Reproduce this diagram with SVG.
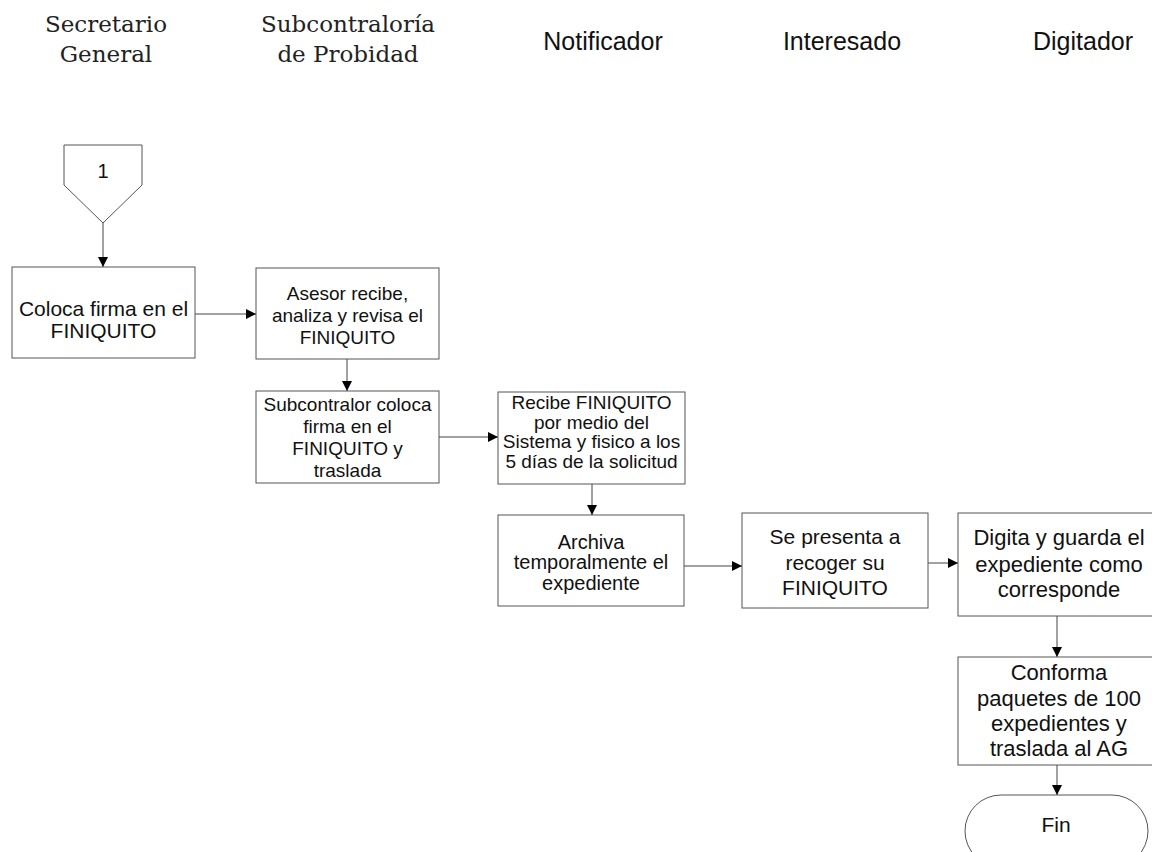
<svg xmlns="http://www.w3.org/2000/svg" width="1152" height="852" viewBox="0 0 1152 852">
  <style>
    .lane { font-family: "DejaVu Serif", "Liberation Serif", serif; font-size: 23px; fill: #222; text-anchor: middle; }
    .lane-s { font-family: "Liberation Sans", Arial, sans-serif; font-size: 25px; fill: #111; text-anchor: middle; }
    .box { fill: #fff; stroke: #555; stroke-width: 1; }
    .t { font-family: "Liberation Sans", Arial, sans-serif; fill: #111; text-anchor: middle; }
    .edge { fill: none; stroke: #444; stroke-width: 1; }
  </style>
  <defs>
    <marker id="arrow" viewBox="0 0 10 10" refX="10" refY="5" markerWidth="10" markerHeight="10" markerUnits="userSpaceOnUse" orient="auto">
      <path d="M0,0 L10,5 L0,10 z" fill="#000"/>
    </marker>
  </defs>
  <rect width="1152" height="852" fill="#fff"/>

  <!-- swimlane headers -->
  <g id="lanes">
    <text class="lane" x="106" y="32">Secretario</text>
    <text class="lane" x="106" y="62">General</text>
    <text class="lane" x="348" y="32">Subcontraloría</text>
    <text class="lane" x="348" y="62">de Probidad</text>
    <text class="lane-s" x="603" y="50">Notificador</text>
    <text class="lane-s" x="842" y="50">Interesado</text>
    <text class="lane-s" x="1083" y="50">Digitador</text>
  </g>

  <!-- connectors -->
  <g id="connectors">
    <line class="edge" x1="103" y1="223" x2="103" y2="267" marker-end="url(#arrow)"/>
    <line class="edge" x1="195" y1="314" x2="256" y2="314" marker-end="url(#arrow)"/>
    <line class="edge" x1="347" y1="359" x2="347" y2="391" marker-end="url(#arrow)"/>
    <line class="edge" x1="439" y1="437" x2="498" y2="437" marker-end="url(#arrow)"/>
    <line class="edge" x1="592" y1="484" x2="592" y2="515" marker-end="url(#arrow)"/>
    <line class="edge" x1="684" y1="566" x2="742" y2="566" marker-end="url(#arrow)"/>
    <line class="edge" x1="928" y1="563" x2="958" y2="563" marker-end="url(#arrow)"/>
    <line class="edge" x1="1057" y1="616" x2="1057" y2="657" marker-end="url(#arrow)"/>
    <line class="edge" x1="1057" y1="765" x2="1057" y2="795" marker-end="url(#arrow)"/>
  </g>

  <!-- off-page reference -->
  <g id="ref1">
    <polygon class="box" points="64,145 142,145 142,185 103,223 64,185"/>
    <text class="t" x="103" y="178" font-size="20">1</text>
  </g>

  <g id="n1">
    <rect class="box" x="12" y="267" width="183" height="91"/>
    <text class="t" font-size="21" x="103.5" y="316">Coloca firma en el</text>
    <text class="t" font-size="21" x="103.5" y="338">FINIQUITO</text>
  </g>

  <g id="n2">
    <rect class="box" x="256" y="268" width="183" height="91"/>
    <text class="t" font-size="19" x="347.5" y="300">Asesor recibe,</text>
    <text class="t" font-size="19" x="347.5" y="322">analiza y revisa el</text>
    <text class="t" font-size="19" x="347.5" y="344">FINIQUITO</text>
  </g>

  <g id="n3">
    <rect class="box" x="256" y="391" width="183" height="92"/>
    <text class="t" font-size="19" x="347.5" y="411">Subcontralor coloca</text>
    <text class="t" font-size="19" x="347.5" y="433">firma en el</text>
    <text class="t" font-size="19" x="347.5" y="455">FINIQUITO y</text>
    <text class="t" font-size="19" x="347.5" y="477">traslada</text>
  </g>

  <g id="n4">
    <rect class="box" x="498" y="392" width="187" height="92"/>
    <text class="t" font-size="19" x="591.5" y="409">Recibe FINIQUITO</text>
    <text class="t" font-size="19" x="591.5" y="428.5">por medio del</text>
    <text class="t" font-size="19" x="591.5" y="448">Sistema y fisico a los</text>
    <text class="t" font-size="19" x="591.5" y="467.5">5 días de la solicitud</text>
  </g>

  <g id="n5">
    <rect class="box" x="498" y="515" width="186" height="91"/>
    <text class="t" font-size="20" x="591" y="549">Archiva</text>
    <text class="t" font-size="20" x="591" y="569">temporalmente el</text>
    <text class="t" font-size="20" x="591" y="590">expediente</text>
  </g>

  <g id="n6">
    <rect class="box" x="742" y="513" width="186" height="95"/>
    <text class="t" font-size="21" x="835" y="544">Se presenta a</text>
    <text class="t" font-size="21" x="835" y="570">recoger su</text>
    <text class="t" font-size="21" x="835" y="595">FINIQUITO</text>
  </g>

  <g id="n7">
    <rect class="box" x="958" y="513" width="202" height="103"/>
    <text class="t" font-size="22" x="1059" y="545">Digita y guarda el</text>
    <text class="t" font-size="22" x="1059" y="572">expediente como</text>
    <text class="t" font-size="22" x="1059" y="597">corresponde</text>
  </g>

  <g id="n8">
    <rect class="box" x="958" y="657" width="202" height="108"/>
    <text class="t" font-size="22" x="1059" y="680">Conforma</text>
    <text class="t" font-size="22" x="1059" y="706">paquetes de 100</text>
    <text class="t" font-size="22" x="1059" y="731">expedientes y</text>
    <text class="t" font-size="22" x="1059" y="756">traslada al AG</text>
  </g>

  <g id="fin">
    <rect class="box" x="965" y="795" width="183" height="72" rx="36" ry="36"/>
    <text class="t" font-size="21" x="1056" y="832">Fin</text>
  </g>
</svg>
